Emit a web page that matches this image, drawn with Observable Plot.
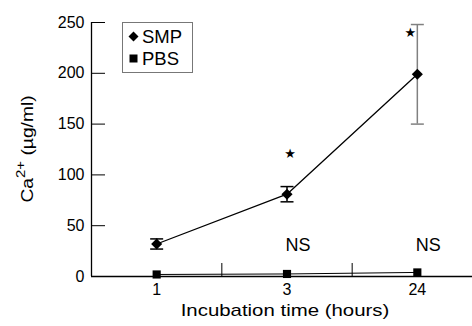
<!DOCTYPE html>
<html><head><meta charset="utf-8">
<script src="https://cdn.jsdelivr.net/npm/d3@7"></script>
<script src="https://cdn.jsdelivr.net/npm/@observablehq/plot@0.6"></script>
<style>
body{margin:0;background:#fff;font-family:"Liberation Sans",Arial,sans-serif;}
#wrap{position:relative;width:472px;height:326px;overflow:hidden;}
#legend{position:absolute;left:122px;top:22px;width:69px;height:49px;border:1px solid #777;background:#fff;font-size:18.5px;color:#000;}
#legend .row{position:absolute;left:5px;height:20px;line-height:20px;white-space:nowrap;}
#legend svg{vertical-align:middle;margin-right:3px;position:relative;top:-2px;}
#ytitle{position:absolute;left:26px;top:149px;transform:translate(-50%,-50%) rotate(-90deg) scaleX(1.2);font-size:16px;white-space:nowrap;}
#ytitle sup{font-size:12.5px;position:relative;top:-1px;}
#xtitle{position:absolute;left:285px;top:311px;transform:translate(-50%,-50%) scaleX(1.2);font-size:17px;white-space:nowrap;}
</style></head>
<body>
<div id="wrap"></div>
<script>
const times = ["1", "3", "24"];
const smpMean = [32, 81, 199];
const smpErr = [5, 7.5, 49];
const pbsMean = [2, 2.5, 4];
const starValue = [null, 121, 240];
const nsValue = [null, 30.5, 30.5];
const yTicks = [0, 50, 100, 150, 200, 250];

const idx = times.map((_, i) => i);
const smp = idx.map(i => ({x: i, t: times[i], y: smpMean[i], lo: smpMean[i] - smpErr[i], hi: smpMean[i] + smpErr[i]}));
const pbs = idx.map(i => ({x: i, t: times[i], y: pbsMean[i]}));
const stars = idx.filter(i => starValue[i] != null).map(i => ({x: i, y: starValue[i]}));
const ns = idx.filter(i => nsValue[i] != null).map(i => ({x: i, y: nsValue[i]}));
const seps = idx.slice(1).map(i => i - 0.5);
const xDomain = [-0.5, times.length - 0.5];

const capSymbol = {draw(ctx, size) { const h = Math.sqrt(size / Math.PI); ctx.moveTo(-h, 0); ctx.lineTo(h, 0); }};
const errColor = d => d.t === "24" ? "#808080" : "#000";

const chart = Plot.plot({
  width: 472, height: 326,
  marginLeft: 91, marginRight: -10, marginTop: 22, marginBottom: 50,
  style: {fontFamily: "Liberation Sans, Arial, sans-serif", fontSize: "16px", background: "#fff", color: "#000"},
  x: {type: "linear", domain: xDomain},
  y: {domain: [0, 250]},
  marks: [
    Plot.axisY({ticks: yTicks, tickSize: -14, tickPadding: 21, fontSize: 16, label: null, strokeWidth: 1}),
    Plot.axisX({ticks: seps, tickSize: -13, tickFormat: () => "", label: null}),
    Plot.axisX({ticks: idx, tickSize: 0, tickPadding: 7, tickFormat: i => times[i], fontSize: 16, label: null}),
    Plot.ruleX([xDomain[0]], {stroke: "#000", strokeWidth: 1.3}),
    Plot.ruleY([0], {stroke: "#000", strokeWidth: 1.3}),
    Plot.line(pbs, {x: "x", y: "y", stroke: "#000", strokeWidth: 1}),
    Plot.line(smp, {x: "x", y: "y", stroke: "#000", strokeWidth: 1.3}),
    Plot.ruleX(smp, {x: "x", y1: "lo", y2: "hi", stroke: errColor, strokeWidth: 1.5}),
    Plot.dot(smp, {x: "x", y: "lo", symbol: capSymbol, r: 6.5, fill: "none", stroke: errColor, strokeWidth: 1.5}),
    Plot.dot(smp, {x: "x", y: "hi", symbol: capSymbol, r: 6.5, fill: "none", stroke: errColor, strokeWidth: 1.5}),
    Plot.dot(smp, {x: "x", y: "y", symbol: "diamond2", r: 5, fill: "#000", stroke: "none"}),
    Plot.dot(pbs, {x: "x", y: "y", symbol: "square", r: 4.6, fill: "#000", stroke: "none"}),
    Plot.text(stars.filter(d => d.x === 1), {x: "x", y: "y", text: () => "★", dx: 3, fontSize: 13, fontFamily: "DejaVu Sans"}),
    Plot.text(stars.filter(d => d.x === 2), {x: "x", y: "y", text: () => "★", dx: -7, fontSize: 13, fontFamily: "DejaVu Sans"}),
    Plot.text(ns, {x: "x", y: "y", text: () => "NS", dx: 11, fontSize: 18})
  ]
});
const wrap = document.getElementById("wrap");
wrap.appendChild(chart);
wrap.insertAdjacentHTML("beforeend", `
<div id="legend">
  <div class="row" style="top:4px"><svg width="11" height="11" viewBox="-5.5 -5.5 11 11"><path d="M0,-5L5,0L0,5L-5,0Z" fill="#000"/></svg>SMP</div>
  <div class="row" style="top:26px"><svg width="11" height="11" viewBox="-5.5 -5.5 11 11"><rect x="-4" y="-4" width="8" height="8" fill="#000"/></svg>PBS</div>
</div>
<div id="ytitle">Ca<sup>2+</sup> (µg/ml)</div>
<div id="xtitle">Incubation time (hours)</div>`);
</script>
</body></html>
